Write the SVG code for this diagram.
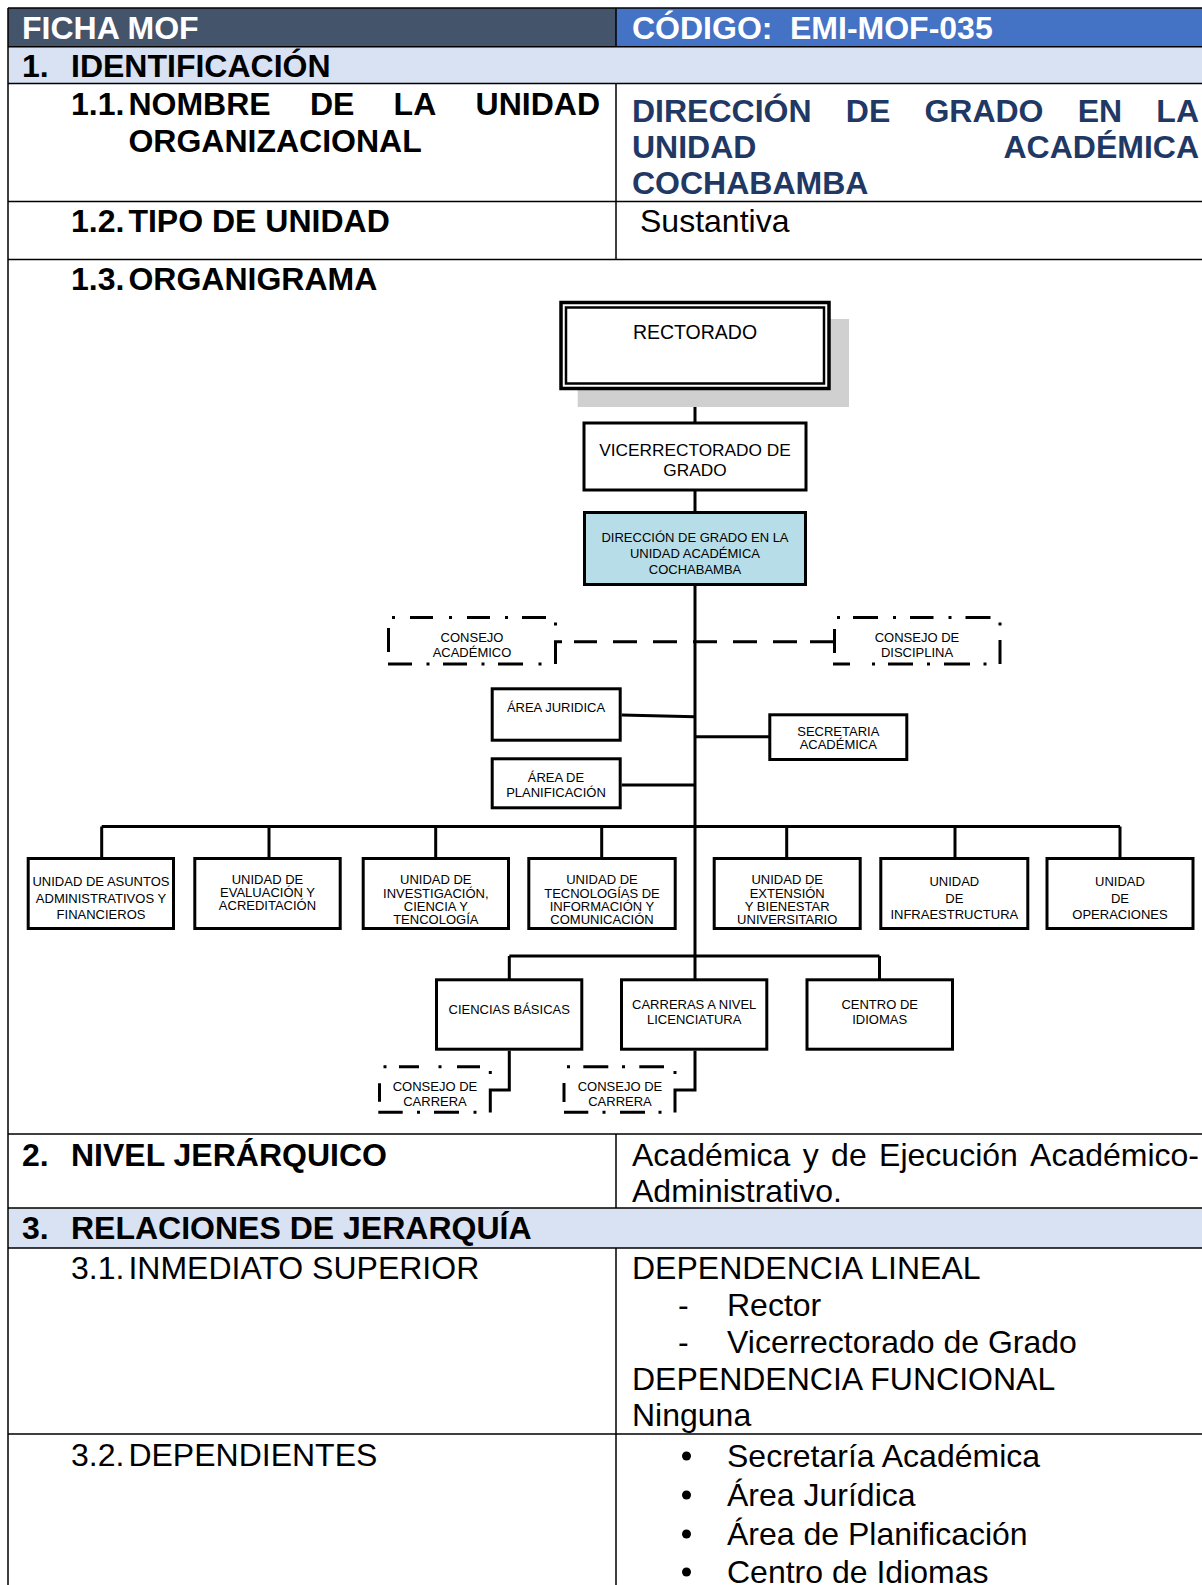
<svg xmlns="http://www.w3.org/2000/svg" width="1202" height="1585" viewBox="0 0 1202 1585">
<style>
.t{font-family:"Liberation Sans",Arial,Helvetica,sans-serif;font-size:32px;fill:#000}
.b{font-weight:bold}
.w{fill:#fff;font-weight:bold}
.nv{fill:#1F3864;font-weight:bold}
.grid{stroke:#000;stroke-width:1.5;fill:none}
.box{fill:#fff;stroke:#000;stroke-width:3}
.blue{fill:#B7DEE8}
.o{font-family:"Liberation Sans",Arial,Helvetica,sans-serif;font-size:13px;fill:#000;text-anchor:middle}
.o19{font-size:19.5px}
.o17{font-size:17.3px}
.con{stroke:#000;stroke-width:3;fill:none}
.dd{stroke:#000;stroke-width:3;fill:none}
</style>
<rect width="1202" height="1585" fill="#fff"/>
<g id="table">
<rect x="8" y="8" width="608" height="38.7" fill="#44546A"/>
<rect x="616" y="8" width="590" height="38.7" fill="#4472C4"/>
<rect x="8" y="46.7" width="1196" height="36.8" fill="#D9E2F3"/>
<rect x="8" y="1208" width="1196" height="40" fill="#D9E2F3"/>
<path class="grid" d="M8 8H1202M8 46.7H1202M8 83.5H1202M8 201.5H1202M8 259.5H1202M8 1134H1202M8 1208H1202M8 1248H1202M8 1434H1202M8 8V1585M616 8V46.7M616 83.5V259.5M616 1134V1208M616 1248V1585"/>
</g>
<g id="table-text">
<text class="t w" x="22" y="39">FICHA MOF</text>
<text class="t w" x="632" y="39">CÓDIGO:</text>
<text class="t w" x="790" y="39">EMI-MOF-035</text>
<text class="t b" x="22" y="76.5">1.</text>
<text class="t b" x="71" y="76.5">IDENTIFICACIÓN</text>
<text class="t b" x="71" y="115">1.1.</text>
<text class="t b" x="128.4" y="115">NOMBRE</text>
<text class="t b" x="309.9" y="115">DE</text>
<text class="t b" x="393.6" y="115">LA</text>
<text class="t b" x="600" y="115" text-anchor="end">UNIDAD</text>
<text class="t b" x="128.4" y="151.5">ORGANIZACIONAL</text>
<text class="t nv" x="632" y="121.5">DIRECCIÓN</text>
<text class="t nv" x="845.8" y="121.5">DE</text>
<text class="t nv" x="924.4" y="121.5">GRADO</text>
<text class="t nv" x="1077.7" y="121.5">EN</text>
<text class="t nv" x="1199" y="121.5" text-anchor="end">LA</text>
<text class="t nv" x="632" y="158">UNIDAD</text>
<text class="t nv" x="1199" y="158" text-anchor="end">ACADÉMICA</text>
<text class="t nv" x="632" y="194">COCHABAMBA</text>
<text class="t b" x="71" y="231.5">1.2.</text>
<text class="t b" x="128.4" y="231.5">TIPO DE UNIDAD</text>
<text class="t" x="640" y="231.5">Sustantiva</text>
<text class="t b" x="71" y="290">1.3.</text>
<text class="t b" x="128.4" y="290">ORGANIGRAMA</text>
<text class="t b" x="22" y="1166">2.</text>
<text class="t b" x="71" y="1166">NIVEL JERÁRQUICO</text>
<text class="t" x="632" y="1166">Académica</text>
<text class="t" x="802.7" y="1166">y</text>
<text class="t" x="831.1" y="1166">de</text>
<text class="t" x="879.1" y="1166">Ejecución</text>
<text class="t" x="1199" y="1166" text-anchor="end">Académico-</text>
<text class="t" x="632" y="1202">Administrativo.</text>
<text class="t b" x="22" y="1239">3.</text>
<text class="t b" x="71" y="1239">RELACIONES DE JERARQUÍA</text>
<text class="t" x="71" y="1279">3.1.</text>
<text class="t" x="128.4" y="1279">INMEDIATO SUPERIOR</text>
<text class="t" x="632" y="1279">DEPENDENCIA LINEAL</text>
<text class="t" x="678" y="1316">-</text>
<text class="t" x="727" y="1316">Rector</text>
<text class="t" x="678" y="1353">-</text>
<text class="t" x="727" y="1353">Vicerrectorado de Grado</text>
<text class="t" x="632" y="1389.5">DEPENDENCIA FUNCIONAL</text>
<text class="t" x="632" y="1425.5">Ninguna</text>
<text class="t" x="71" y="1466">3.2.</text>
<text class="t" x="128.4" y="1466">DEPENDIENTES</text>
<circle cx="686.5" cy="1456" r="4.5" fill="#000"/>
<text class="t" x="727" y="1467">Secretaría Académica</text>
<circle cx="686.5" cy="1495" r="4.5" fill="#000"/>
<text class="t" x="727" y="1506">Área Jurídica</text>
<circle cx="686.5" cy="1534" r="4.5" fill="#000"/>
<text class="t" x="727" y="1545">Área de Planificación</text>
<circle cx="686.5" cy="1572" r="4.5" fill="#000"/>
<text class="t" x="727" y="1583">Centro de Idiomas</text>
</g>
<g id="connectors">
<path class="con" d="M695 389V423M695 491V512"/>
<path class="con" stroke-width="3.5" d="M695 586V979"/>
<path class="con" d="M621.7 715L695 716.7M621.7 785H695M695 736.7H769"/>
<path class="con" d="M562 641.7H555.5V664"/>
<path class="con" d="M574 641.7H597M613 641.7H637M653 641.7H677M693 641.7H717M733 641.7H757M773 641.7H797M810 641.7H834.5"/>
<path class="con" stroke-width="3.3" d="M101.7 826.5H1120M101.7 826.5V858M269 826.5V858M435.7 826.5V858M601.7 826.5V858M786.7 826.5V858M955 826.5V858M1120 826.5V858"/>
<path class="con" d="M509.3 956H879.5M509.3 956V979M879.5 956V979"/>
<path class="con" d="M509.3 1050.7V1090H490.3V1112.5M695 1050.7V1090H675V1112.5"/>
</g>
<g id="rectorado">
<rect x="577.7" y="319" width="271.3" height="88" fill="#D0D0D0"/>
<rect x="561" y="302.5" width="268" height="86" fill="#fff" stroke="#000" stroke-width="3.5"/>
<rect x="566" y="307.5" width="258" height="76" fill="none" stroke="#000" stroke-width="2.5"/>
<text class="o o19" x="695" y="339">RECTORADO</text>
</g>
<g id="vicerrectorado">
<rect class="box" x="584" y="423" width="222" height="67"/>
<text class="o o17" x="695" y="455.5">VICERRECTORADO DE</text>
<text class="o o17" x="695" y="476">GRADO</text>
</g>
<g id="direccion">
<rect class="box blue" x="584.5" y="512.5" width="221" height="72"/>
<text class="o" x="695" y="542.3">DIRECCIÓN DE GRADO EN LA</text>
<text class="o" x="695" y="558">UNIDAD ACADÉMICA</text>
<text class="o" x="695" y="573.5">COCHABAMBA</text>
</g>
<g id="consejo-academico">
<path class="dd" d="M392 617.5h3M410 617.5h23M449 617.5h3M467 617.5h23M505 617.5h3M522 617.5h24M555.5 622.5v3M388 664h24M426.5 664h3M443 664h24M481.5 664h3M498 664h25M538.5 664h3M388.5 628v24"/>
<text class="o" x="472" y="641.5">CONSEJO</text>
<text class="o" x="472" y="656.5">ACADÉMICO</text>
</g>
<g id="consejo-disciplina">
<path class="dd" d="M837 617.5h3M853 617.5h25M893 617.5h3M910 617.5h23.5M948.5 617.5h3M965.5 617.5h25M1000 622.5v3M1000 640v24M833 664h17M872 664h3M888 664h25M927 664h3M944 664h26M983.5 664h3M834.5 629v24"/>
<text class="o" x="917" y="642">CONSEJO DE</text>
<text class="o" x="917" y="656.5">DISCIPLINA</text>
</g>
<g id="area-juridica">
<rect class="box" x="492.2" y="688.8" width="128" height="51.4"/>
<text class="o" x="556" y="712.3">ÁREA JURIDICA</text>
</g>
<g id="area-planificacion">
<rect class="box" x="492.2" y="758.8" width="128" height="49"/>
<text class="o" x="556" y="781.7">ÁREA DE</text>
<text class="o" x="556" y="797.3">PLANIFICACIÓN</text>
</g>
<g id="secretaria">
<rect class="box" x="769.8" y="714.8" width="137" height="44.7"/>
<text class="o" x="838.3" y="736">SECRETARIA</text>
<text class="o" x="838.3" y="749.3">ACADÉMICA</text>
</g>
<g id="u-asuntos">
<rect class="box" x="28.2" y="858.5" width="145.3" height="70"/>
<text class="o" x="101" y="886">UNIDAD DE ASUNTOS</text>
<text class="o" x="101" y="902.5">ADMINISTRATIVOS Y</text>
<text class="o" x="101" y="918.5">FINANCIEROS</text>
</g>
<g id="u-evaluacion">
<rect class="box" x="194.8" y="858.5" width="145.4" height="70"/>
<text class="o" x="267.5" y="884">UNIDAD DE</text>
<text class="o" x="267.5" y="897">EVALUACIÓN Y</text>
<text class="o" x="267.5" y="910">ACREDITACIÓN</text>
</g>
<g id="u-investigacion">
<rect class="box" x="363.2" y="858.5" width="145.3" height="70"/>
<text class="o" x="435.8" y="884">UNIDAD DE</text>
<text class="o" x="435.8" y="897.5">INVESTIGACIÓN,</text>
<text class="o" x="435.8" y="910.5">CIENCIA Y</text>
<text class="o" x="435.8" y="923.5">TENCOLOGÍA</text>
</g>
<g id="u-tecnologias">
<rect class="box" x="528.8" y="858.5" width="146.4" height="70"/>
<text class="o" x="602" y="884">UNIDAD DE</text>
<text class="o" x="602" y="897.5">TECNOLOGÍAS DE</text>
<text class="o" x="602" y="910.5">INFORMACIÓN Y</text>
<text class="o" x="602" y="923.5">COMUNICACIÓN</text>
</g>
<g id="u-extension">
<rect class="box" x="714.2" y="858.5" width="146" height="70"/>
<text class="o" x="787.2" y="884">UNIDAD DE</text>
<text class="o" x="787.2" y="897.5">EXTENSIÓN</text>
<text class="o" x="787.2" y="910.5">Y BIENESTAR</text>
<text class="o" x="787.2" y="923.5">UNIVERSITARIO</text>
</g>
<g id="u-infraestructura">
<rect class="box" x="880.8" y="858.5" width="147" height="70"/>
<text class="o" x="954.3" y="886">UNIDAD</text>
<text class="o" x="954.3" y="902.5">DE</text>
<text class="o" x="954.3" y="918.5">INFRAESTRUCTURA</text>
</g>
<g id="u-operaciones">
<rect class="box" x="1047" y="858.5" width="146" height="70"/>
<text class="o" x="1120" y="886">UNIDAD</text>
<text class="o" x="1120" y="902.5">DE</text>
<text class="o" x="1120" y="918.5">OPERACIONES</text>
</g>
<g id="ciencias-basicas">
<rect class="box" x="436.5" y="979.8" width="145.3" height="69.4"/>
<text class="o" x="509.2" y="1014">CIENCIAS BÁSICAS</text>
</g>
<g id="carreras">
<rect class="box" x="621.5" y="979.8" width="145.3" height="69.4"/>
<text class="o" x="694.2" y="1009">CARRERAS A NIVEL</text>
<text class="o" x="694.2" y="1024">LICENCIATURA</text>
</g>
<g id="centro-idiomas">
<rect class="box" x="807" y="979.8" width="145.5" height="69.4"/>
<text class="o" x="879.7" y="1009">CENTRO DE</text>
<text class="o" x="879.7" y="1024">IDIOMAS</text>
</g>
<g id="consejo-carrera-1">
<path class="dd" d="M383.5 1066.7h3M399 1066.7h20M438.5 1066.7h3M457 1066.7h23M490.3 1071v3M379.5 1083.3v18.4M378.3 1112.3h24.4M417 1112.3h3M434 1112.3h25M473.5 1112.3h3"/>
<text class="o" x="435" y="1090.7">CONSEJO DE</text>
<text class="o" x="435" y="1106">CARRERA</text>
</g>
<g id="consejo-carrera-2">
<path class="dd" d="M567 1066.7h3M583.3 1066.7h25M622 1066.7h3M639.3 1066.7h24.7M675 1071v3M564 1083v19M564 1112.3h24.3M602.5 1112.3h3M620 1112.3h25M658.5 1112.3h3"/>
<text class="o" x="620" y="1090.7">CONSEJO DE</text>
<text class="o" x="620" y="1106">CARRERA</text>
</g>
</svg>
